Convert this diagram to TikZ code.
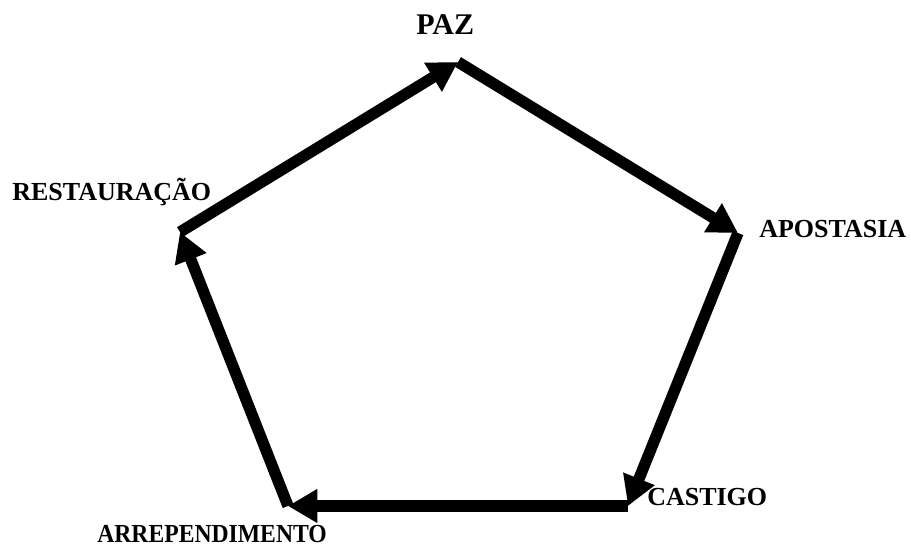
\documentclass[tikz,border=0pt]{standalone}
\usepackage{fontspec}
\usepackage{graphicx}
\setmainfont{Liberation Serif}
\usetikzlibrary{arrows.meta}
\tikzset{
  lbl/.style={inner sep=0pt,anchor=base west,font=\fontsize{19.5}{22}\selectfont\bfseries},
  cyc/.style={line width=8.5pt,-{Triangle[length=22pt,width=24pt]}}
}
\begin{document}
\begin{tikzpicture}[x=0.75pt,y=-0.75pt]
  \useasboundingbox (0,0) rectangle (911,548);
  \coordinate (paz) at (458,62);
  \coordinate (apo) at (738,233);
  \coordinate (cas) at (628,506);
  \coordinate (arr) at (288,506);
  \coordinate (res) at (180,232);
  \node[lbl,font=\fontsize{22.5}{26}\selectfont\bfseries] (lpaz) at (416,35) {PAZ};
  \node[lbl] (lapo) at (759,238) {APOSTASIA};
  \node[lbl] (lcas) at (647,506) {CASTIGO};
  \node[lbl] (larr) at (97,543) {\scalebox{0.91}[1]{ARREPENDIMENTO}};
  \node[lbl] (lres) at (12,201) {RESTAURAÇÃO};
  \draw[cyc] (paz) -- (apo);
  \draw[cyc] (apo) -- (cas);
  \draw[cyc] (cas) -- (arr);
  \draw[cyc] (arr) -- (res);
  \draw[cyc] (res) -- (paz);
\end{tikzpicture}
\end{document}
